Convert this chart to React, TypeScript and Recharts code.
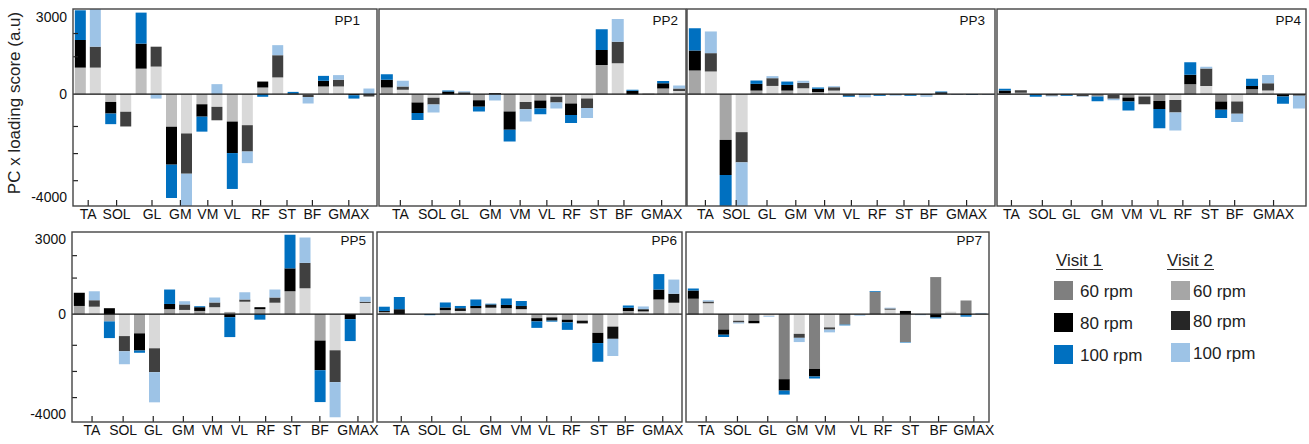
import React from 'react';
import { BarChart, Bar, XAxis, YAxis, ReferenceLine, Cell } from 'recharts';

const FONT = '"Liberation Sans", Arial, Helvetica, sans-serif';

const MUSCLES = ['TA', 'SOL', 'GL', 'GM', 'VM', 'VL', 'RF', 'ST', 'BF', 'GMAX'];
const Y_DOMAIN: [number, number] = [-4330, 3300];
const Y_TICKS = [3000, 2350, 1450, 0, -1250, -2300, -3350, -4000];
const Y_LABELLED_TICKS = [3000, 0, -4000];
const LEGEND_RPM = ['60 rpm', '80 rpm', '100 rpm'];
const LEGEND_VISITS = ['Visit 1', 'Visit 2'];

// ---- PP1 ----
const PP1_V1_60 = [1030, -300, 990, -1260, -390, -1060, 260, 0, 300, 0];
const PP1_V1_80 = [1070, -450, 970, -1470, -480, -1220, 230, 30, 220, -40];
const PP1_V1_100 = [1150, -410, 1200, -1290, -580, -1390, -100, 60, 190, -130];
const PP1_V2_60 = [1030, -680, 1070, -1520, -490, -1200, 650, -30, 300, 0];
const PP1_V2_80 = [810, -570, 770, -1560, -520, -1020, 860, -80, 260, -90];
const PP1_V2_100 = [1500, 0, -170, -1400, 390, -450, 390, -250, 180, 220];

// ---- PP2 ----
const PP2_V1_60 = [260, -320, 0, -230, -670, -245, -360, 1135, 0, 220];
const PP2_V1_80 = [300, -410, 100, -260, -710, -310, -450, 580, 130, 200];
const PP2_V1_100 = [210, -270, 40, -180, -450, -220, -310, 800, 40, 90];
const PP2_V2_60 = [170, -140, 0, 0, -300, -100, -170, 1200, 0, 120];
const PP2_V2_80 = [130, -260, 80, 50, -280, -220, -360, 830, 20, 100];
const PP2_V2_100 = [220, -310, 30, -240, -480, -230, -390, 880, 0, 120];

// ---- PP3 ----
const PP3_V1_60 = [920, -1770, 140, 140, 90, -20, -20, -20, 20, 0];
const PP3_V1_80 = [770, -1360, 260, 220, 120, -40, -20, -20, 60, -10];
const PP3_V1_100 = [860, -1250, 130, 130, 50, -40, -30, -30, 20, -20];
const PP3_V2_60 = [880, -1470, 320, 230, 140, 0, 0, 0, 0, 0];
const PP3_V2_80 = [710, -1170, 300, 210, 130, -30, -20, -40, -10, -10];
const PP3_V2_100 = [840, -1700, 80, 80, 40, -90, -40, -60, -20, -20];

// ---- PP4 ----
const PP4_V1_60 = [50, 0, -20, -90, -130, -260, 390, -280, 190, 0];
const PP4_V1_80 = [90, -20, -20, 0, -150, -310, 360, -320, 130, -90];
const PP4_V1_100 = [70, -80, -30, -180, -350, -750, 490, -320, 280, -280];
const PP4_V2_60 = [60, 0, -20, -30, -90, -220, 320, -280, 140, 0];
const PP4_V2_80 = [90, -60, -60, -150, -300, -490, 680, -480, 280, -60];
const PP4_V2_100 = [0, -30, -20, -50, 0, -700, 60, -320, 320, -490];

// ---- PP5 ----
const PP5_V1_60 = [330, -290, -770, 200, 130, 90, 200, 920, -1060, 0];
const PP5_V1_80 = [530, 240, -690, 210, 150, -120, 80, 920, -1190, -200];
const PP5_V1_100 = [0, -670, -90, 580, 40, -800, -220, 1350, -1280, -880];
const PP5_V2_60 = [300, -880, -1370, 170, 280, 500, 460, 1040, -1450, 450];
const PP5_V2_80 = [260, -610, -960, 220, 190, 90, 210, 1020, -1280, 50];
const PP5_V2_100 = [360, -520, -1210, 130, 200, 290, 320, 1020, -1410, 200];

// ---- PP6 ----
const PP6_V1_60 = [90, 0, 160, 240, 240, -160, -220, -750, 130, 590];
const PP6_V1_80 = [40, 0, 110, 90, 130, -130, -110, -410, 130, 400];
const PP6_V1_100 = [170, 0, 200, 260, 260, -260, -300, -750, 90, 620];
const PP6_V2_60 = [0, 0, 130, 260, 200, -130, -260, -500, 110, 460];
const PP6_V2_80 = [200, 0, 110, 130, 130, -130, -110, -490, 90, 360];
const PP6_V2_100 = [490, -40, 90, 30, 200, -40, 0, -690, 110, 570];

// ---- PP7 ----
const PP7_V1_60 = [620, -620, -260, -2610, -2200, -420, 900, -1120, 1490, 550];
const PP7_V1_80 = [330, -210, -100, -460, -300, 0, 0, 130, -130, -40];
const PP7_V1_100 = [80, -90, 0, -160, -80, -30, 30, -20, -40, -60];
const PP7_V2_60 = [440, -260, -80, -790, -530, -20, 180, 0, 100, 0];
const PP7_V2_80 = [70, -70, 0, -160, -90, 0, 50, 0, 0, 20];
const PP7_V2_100 = [50, -40, -30, -170, -110, -40, 30, -40, 0, 30];

const C = {
  v1_80: '#000000',
  v1_100: '#0070c0',
  v2_60: '#d9d9d9',
  v2_80: '#404040',
  v2_100: '#9dc3e6',
};

type PanelCfg = {
  title: string;
  v1: number[][];
  v2: number[][];
  left: number;
  top: number;
  width: number;
  height: number;
  labelled: boolean;
  c1_60: string;
  c2_80?: string;
  v2DarkCats?: number;
  titleInset: number;
  labelNudge: number[];
};

const TOP_Y = 9;
const TOP_H = 197;
const BOT_Y = 232;
const BOT_H = 190;

const PANELS: PanelCfg[] = [
  { title: 'PP1', v1: [PP1_V1_60, PP1_V1_80, PP1_V1_100], v2: [PP1_V2_60, PP1_V2_80, PP1_V2_100], left: 73, top: TOP_Y, width: 304, height: TOP_H, labelled: true, c1_60: '#bfbfbf', titleInset: 17, labelNudge: [0, -2, 3, 1, -2, -8, -10, -14, -19, -13] },
  { title: 'PP2', v1: [PP2_V1_60, PP2_V1_80, PP2_V1_100], v2: [PP2_V2_60, PP2_V2_80, PP2_V2_100], left: 379, top: TOP_Y, width: 307, height: TOP_H, labelled: false, c1_60: '#a6a6a6', titleInset: 8, labelNudge: [6, 7, 4, 4, 3, -1, -7, -11, -16, -9] },
  { title: 'PP3', v1: [PP3_V1_60, PP3_V1_80, PP3_V1_100], v2: [PP3_V2_60, PP3_V2_80, PP3_V2_100], left: 687, top: TOP_Y, width: 308, height: TOP_H, labelled: false, c1_60: '#a6a6a6', titleInset: 10, labelNudge: [3, 3, 3, 1, -1, -5, -10, -14, -20, -13] },
  { title: 'PP4', v1: [PP4_V1_60, PP4_V1_80, PP4_V1_100], v2: [PP4_V2_60, PP4_V2_80, PP4_V2_100], left: 997, top: TOP_Y, width: 309, height: TOP_H, labelled: false, c1_60: '#8a8a8a', titleInset: 5, labelNudge: [-1, -1, -3, -3, -4, -9, -15, -19, -25, -17] },
  { title: 'PP5', v1: [PP5_V1_60, PP5_V1_80, PP5_V1_100], v2: [PP5_V2_60, PP5_V2_80, PP5_V2_100], left: 72, top: BOT_Y, width: 301, height: BOT_H, labelled: true, c1_60: '#a6a6a6', titleInset: 7, labelNudge: [5, 6, 6, 6, 5, 2, -2, -6, -8, 0] },
  { title: 'PP6', v1: [PP6_V1_60, PP6_V1_80, PP6_V1_100], v2: [PP6_V2_60, PP6_V2_80, PP6_V2_100], left: 377, top: BOT_Y, width: 305, height: BOT_H, labelled: false, c1_60: '#a6a6a6', c2_80: '#111111', v2DarkCats: 7, titleInset: 5, labelNudge: [9, 9, 8, 7, 7, 2, -4, -7, -11, -4] },
  { title: 'PP7', v1: [PP7_V1_60, PP7_V1_80, PP7_V1_100], v2: [PP7_V2_60, PP7_V2_80, PP7_V2_100], left: 686, top: BOT_Y, width: 303, height: BOT_H, labelled: false, c1_60: '#808080', titleInset: 7, labelNudge: [5, 6, 6, 5, 3, 6, 0, -3, -5, 0] },
];

const X_AXIS_H = 26;
const Y_AXIS_W_LABELLED = 60;

function makeYTick(labelled: boolean) {
  return (props: any) => {
    const { x, y, payload } = props;
    const v = payload.value;
    const isLab = Y_LABELLED_TICKS.includes(v);
    if (isLab) {
      if (!labelled) return <g />;
      return (
        <text x={x - 6} y={y} dy={5} textAnchor="end" fontFamily={FONT} fontSize={14} fill="#111">
          {v}
        </text>
      );
    }
    return <line x1={x} x2={x + 5} y1={y} y2={y} stroke="#222" strokeWidth={1.2} />;
  };
}

function makeXTick(nudge: number[]) {
  return (props: any) => {
    const { x, y, payload, index } = props;
    const cx = x + (nudge[index] || 0);
    return (
      <g>
        <line x1={cx} x2={cx} y1={y} y2={y - 6} stroke="#222" strokeWidth={1.2} />
        <text x={cx} y={y + 12.5} textAnchor="middle" fontFamily={FONT} fontSize={14} fill="#111">
          {payload.value}
        </text>
      </g>
    );
  };
}

function Panel({ p }: { p: PanelCfg }) {
  const yW = p.labelled ? Y_AXIS_W_LABELLED : 0;
  const data = MUSCLES.map((m, i) => ({
    name: m,
    a60: p.v1[0][i],
    a80: p.v1[1][i],
    a100: p.v1[2][i],
    b60: p.v2[0][i],
    b80: p.v2[1][i],
    b100: p.v2[2][i],
  }));
  const dark = p.v2DarkCats || 0;
  return (
    <div style={{ position: 'absolute', left: p.left - yW, top: p.top }}>
      <BarChart
        width={p.width + yW}
        height={p.height + X_AXIS_H}
        data={data}
        margin={{ top: 0, right: 0, bottom: 0, left: 0 }}
        stackOffset="sign"
        barCategoryGap="6%"
        barGap={4}
      >
        <XAxis
          dataKey="name"
          interval={0}
          tickLine={false}
          axisLine={false}
          tickSize={0}
          tickMargin={0}
          height={X_AXIS_H}
          tick={makeXTick(p.labelNudge)}
        />
        <YAxis
          type="number"
          domain={Y_DOMAIN}
          allowDataOverflow
          ticks={Y_TICKS}
          interval={0}
          tickLine={false}
          axisLine={false}
          tickSize={0}
          tickMargin={0}
          width={yW}
          tick={makeYTick(p.labelled)}
        />
        <Bar dataKey="a60" stackId="v1" fill={p.c1_60} isAnimationActive={false} />
        <Bar dataKey="a80" stackId="v1" fill={C.v1_80} isAnimationActive={false} />
        <Bar dataKey="a100" stackId="v1" fill={C.v1_100} isAnimationActive={false} />
        <Bar dataKey="b60" stackId="v2" fill={C.v2_60} isAnimationActive={false} />
        <Bar dataKey="b80" stackId="v2" fill={p.c2_80 || C.v2_80} isAnimationActive={false} />
        <Bar dataKey="b100" stackId="v2" fill={C.v2_100} isAnimationActive={false}>
          {data.map((d, i) => (
            <Cell key={d.name} fill={i < dark ? C.v1_100 : C.v2_100} />
          ))}
        </Bar>
        <ReferenceLine y={0} stroke="#111" strokeWidth={1.3} />
      </BarChart>
    </div>
  );
}

const LEGEND_COLORS = [
  ['#7f7f7f', '#000000', '#0070c0'],
  ['#a6a6a6', '#262626', '#9dc3e6'],
];

export default function App() {
  return (
    <div
      style={{
        position: 'absolute',
        left: 0,
        top: 0,
        width: 1309,
        height: 444,
        background: '#ffffff',
        fontFamily: FONT,
        overflow: 'hidden',
      }}
    >
      <style>{`.recharts-surface{overflow:visible}`}</style>
      {PANELS.map((p) => (
        <Panel key={p.title} p={p} />
      ))}
      <svg
        width={1309}
        height={444}
        style={{ position: 'absolute', left: 0, top: 0, pointerEvents: 'none' }}
      >
        {PANELS.map((p) => (
          <g key={p.title}>
            <rect x={p.left} y={p.top} width={p.width} height={p.height} fill="none" stroke="#444" strokeWidth={1.4} />
            <text
              x={p.left + p.width - p.titleInset}
              y={p.top + (p.top === TOP_Y ? 16 : 13)}
              textAnchor="end"
              fontFamily={FONT}
              fontSize={13.5}
              fill="#111"
            >
              {p.title}
            </text>
          </g>
        ))}
        <text
          x={20}
          y={103}
          transform="rotate(-90 20 103)"
          textAnchor="middle"
          fontFamily={FONT}
          fontSize={17}
          fill="#222"
        >
          PC x loading score (a.u)
        </text>
        {LEGEND_VISITS.map((v, vi) => {
          const tx = vi === 0 ? 1056 : 1167;
          const sx = vi === 0 ? 1054 : 1171;
          const lx = vi === 0 ? 1080 : 1193;
          const rows = vi === 0 ? [281, 313, 345] : [281, 311, 343];
          return (
            <g key={v}>
              <text x={tx} y={266} fontFamily={FONT} fontSize={17} fill="#222">
                {v}
              </text>
              <line x1={tx} x2={tx + 47} y1={269.5} y2={269.5} stroke="#333" strokeWidth={1.2} />
              {LEGEND_RPM.map((r, ri) => (
                <g key={r}>
                  <rect x={sx} y={rows[ri]} width={19} height={19} fill={LEGEND_COLORS[vi][ri]} />
                  <text x={lx} y={rows[ri] + 16} fontFamily={FONT} fontSize={17} fill="#222">
                    {r}
                  </text>
                </g>
              ))}
            </g>
          );
        })}
      </svg>
    </div>
  );
}
